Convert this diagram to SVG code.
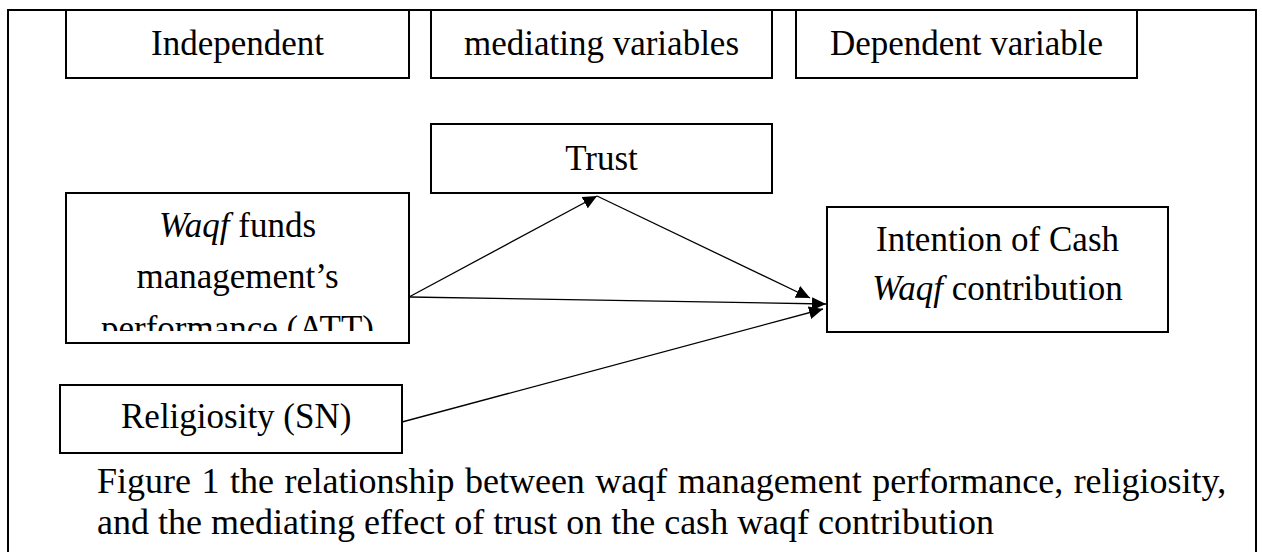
<svg xmlns="http://www.w3.org/2000/svg" width="1262" height="552" viewBox="0 0 1262 552">
<style>
.box{fill:#fff;stroke:#000;stroke-width:2}
.frame{fill:none;stroke:#000;stroke-width:2}
.t{font-family:"Liberation Serif","Times New Roman",serif;font-size:35px;fill:#000}
.c{font-family:"Liberation Serif","Times New Roman",serif;font-size:36px;fill:#000}
.mid{text-anchor:middle}
.conn{fill:none;stroke:#000;stroke-width:1.3}
</style>
<defs>
<marker id="ah" markerUnits="userSpaceOnUse" markerWidth="15" markerHeight="13" refX="14" refY="6.5" orient="auto">
<path d="M0,0 L14,6.5 L0,13 z" fill="#000"/>
</marker>
<clipPath id="clipW"><rect x="67" y="194" width="341" height="137"/></clipPath>
</defs>
<rect width="1262" height="552" fill="#fff"/>
<path class="frame" d="M8,560 L8,10 L1256,10 L1256,560"/>
<g id="independent">
<rect class="box" x="66" y="10" width="343" height="68"/>
<text class="t mid" x="237.5" y="55">Independent</text>
</g>
<g id="mediating">
<rect class="box" x="431" y="10" width="341" height="68"/>
<text class="t mid" x="601.5" y="55">mediating variables</text>
</g>
<g id="dependent">
<rect class="box" x="796" y="10" width="341" height="68"/>
<text class="t mid" x="966.5" y="55">Dependent variable</text>
</g>
<g id="trust">
<rect class="box" x="431" y="124" width="341" height="69"/>
<text class="t mid" x="601.5" y="170">Trust</text>
</g>
<g id="waqf">
<rect class="box" x="66" y="193" width="343" height="150"/>
<g clip-path="url(#clipW)">
<text class="t mid" x="237.5" y="237"><tspan font-style="italic">Waqf</tspan> funds</text>
<text class="t mid" x="237.5" y="288">management’s</text>
<text class="t mid" x="237.5" y="340">performance (ATT)</text>
</g>
</g>
<g id="intention">
<rect class="box" x="827" y="207" width="341" height="125"/>
<text class="t mid" x="997.5" y="251">Intention of Cash</text>
<text class="t mid" x="997.5" y="300"><tspan font-style="italic">Waqf</tspan> contribution</text>
</g>
<g id="religiosity">
<rect class="box" x="60" y="385" width="342" height="68"/>
<text class="t" x="121" y="428">Religiosity (SN)</text>
</g>
<g id="connectors">
<line class="conn" x1="409" y1="297" x2="597" y2="196" marker-end="url(#ah)"/>
<line class="conn" x1="597" y1="196" x2="810" y2="298" marker-end="url(#ah)"/>
<line class="conn" x1="409" y1="297" x2="826" y2="304" marker-end="url(#ah)"/>
<line class="conn" x1="402" y1="422" x2="823" y2="309" marker-end="url(#ah)"/>
</g>
<g id="caption">
<text class="c" x="97" y="493" word-spacing="1.5">Figure 1 the relationship between waqf management performance, religiosity,</text>
<text class="c" x="97" y="534">and the mediating effect of trust on the cash waqf contribution</text>
</g>
</svg>
